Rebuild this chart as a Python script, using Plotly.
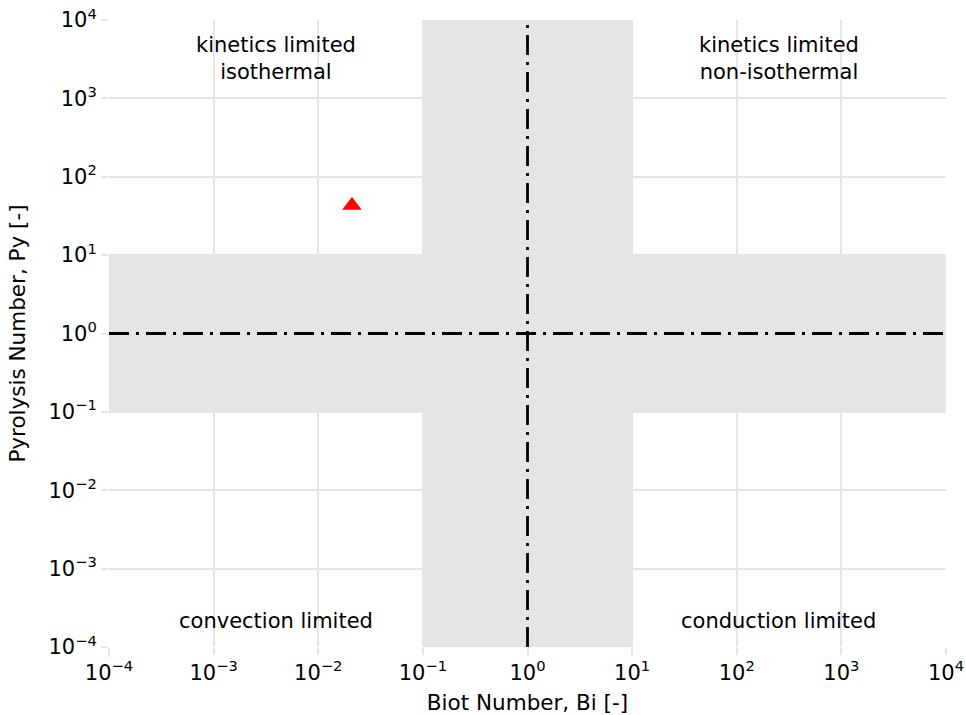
import math
import plotly.graph_objects as go

# Regime map data
decades = [-4, -3, -2, -1, 0, 1, 2, 3, 4]
tick_vals = [10.0 ** d for d in decades]
tick_text = ["10<sup>%s</sup>" % (str(d).replace("-", "\u2212")) for d in decades]

axis_min, axis_max = 1e-4, 1e4
band_lo, band_hi = 0.1, 10.0
crit_value = 1.0

sample_bi = [0.021]
sample_py = [43.0]

labels_top = ["kinetics limited<br>isothermal", "kinetics limited<br>non-isothermal"]
labels_bottom = ["convection limited", "conduction limited"]
label_bi = [10 ** -2.4, 10 ** 2.4]

FONT = "DejaVu Sans"
band_color = "#e5e5e5"
grid_color = "#e5e5e5"

fig = go.Figure()

# transition bands (vertical and horizontal)
fig.add_trace(go.Scatter(
    x=[band_lo, band_hi, band_hi, band_lo, band_lo],
    y=[axis_min, axis_min, axis_max, axis_max, axis_min],
    fill="toself", fillcolor=band_color, mode="none",
    hoverinfo="skip", showlegend=False))
fig.add_trace(go.Scatter(
    x=[axis_min, axis_max, axis_max, axis_min, axis_min],
    y=[band_lo, band_lo, band_hi, band_hi, band_lo],
    fill="toself", fillcolor=band_color, mode="none",
    hoverinfo="skip", showlegend=False))

# critical lines Bi = 1 and Py = 1
dash = "20px,7px,3px,7px"
fig.add_trace(go.Scatter(
    x=[crit_value, crit_value], y=[axis_min, axis_max], mode="lines",
    line=dict(color="black", width=2.8, dash=dash),
    hoverinfo="skip", showlegend=False))
fig.add_trace(go.Scatter(
    x=[axis_min, axis_max], y=[crit_value, crit_value], mode="lines",
    line=dict(color="black", width=2.8, dash=dash),
    hoverinfo="skip", showlegend=False))

# sample point
fig.add_trace(go.Scatter(
    x=sample_bi, y=sample_py, mode="markers",
    marker=dict(symbol="triangle-up", size=17, color="red"),
    showlegend=False))

# regime labels (annotation coordinates on log axes are log10 values)
for xv, txt in zip(label_bi, labels_top):
    fig.add_annotation(x=math.log10(xv), y=math.log10(axis_max), xref="x", yref="y",
                       text=txt, showarrow=False, yanchor="top", yshift=-11,
                       font=dict(family=FONT, size=21, color="black"))
for xv, txt in zip(label_bi, labels_bottom):
    fig.add_annotation(x=math.log10(xv), y=math.log10(axis_min), xref="x", yref="y",
                       text=txt, showarrow=False, yanchor="bottom", yshift=12,
                       font=dict(family=FONT, size=21, color="black"))

axis_common = dict(
    type="log", range=[-4, 4], tickvals=tick_vals, ticktext=tick_text,
    showgrid=True, gridcolor=grid_color, gridwidth=1.6,
    ticks="outside", ticklen=7, tickwidth=1.6, tickcolor=grid_color,
    showline=False, zeroline=False, automargin=False,
    tickfont=dict(family=FONT, size=21, color="black"),
)

fig.update_layout(
    width=966, height=715,
    margin=dict(l=109, r=20, t=20, b=68),
    paper_bgcolor="white", plot_bgcolor="white",
    font=dict(family=FONT, color="black"),
    xaxis=dict(axis_common, title=dict(text="Biot Number, Bi [-]",
                                       font=dict(family=FONT, size=21.5), standoff=10)),
    yaxis=dict(axis_common, title=dict(text="Pyrolysis Number, Py [-]",
                                       font=dict(family=FONT, size=21.5), standoff=16)),
)

fig.write_html("out.html")
